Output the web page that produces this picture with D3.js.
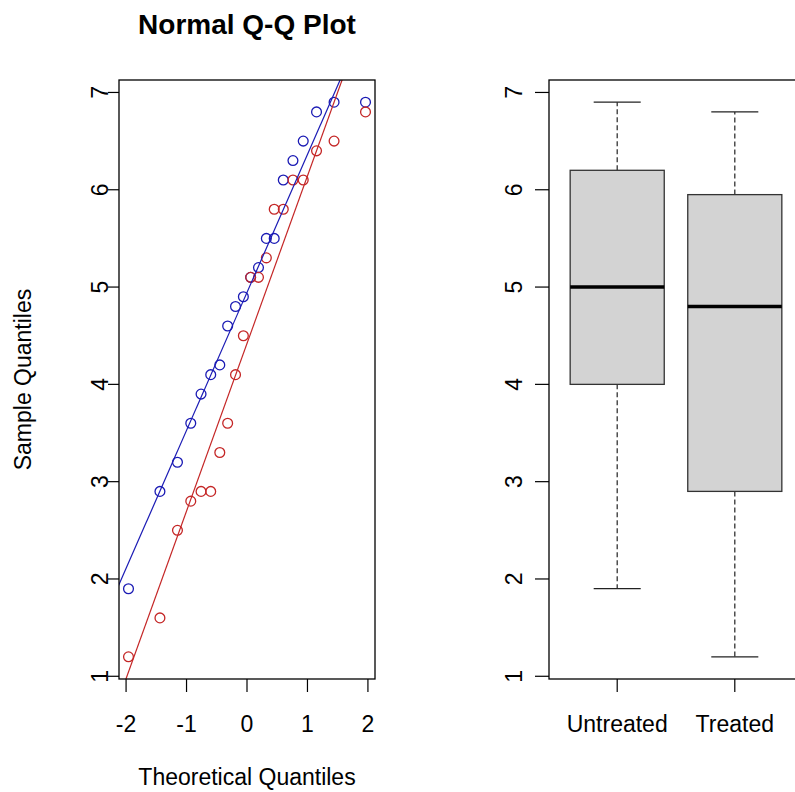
<!DOCTYPE html>
<html lang="en">
<head>
<meta charset="utf-8">
<title>Q-Q plot and boxplot</title>
<script src="https://cdn.jsdelivr.net/npm/d3@7"></script>
<style>
  body { margin: 0; background: #fff; }
  svg { display: block; font-family: "Liberation Sans", Arial, sans-serif; }
</style>
</head>
<body>
<script>
// sorted samples
var untreated = [1.9, 2.9, 3.2, 3.6, 3.9, 4.1, 4.2, 4.6, 4.8, 4.9,
                 5.1, 5.2, 5.5, 5.5, 6.1, 6.3, 6.5, 6.8, 6.9, 6.9];
var treated = [1.2, 1.6, 2.5, 2.8, 2.9, 2.9, 3.3, 3.6, 4.1, 4.5,
               5.1, 5.1, 5.3, 5.8, 5.8, 6.1, 6.1, 6.4, 6.5, 6.8];
// normal quantiles on the x axis (n = 20)
var theoretical = [-1.96, -1.44, -1.15, -0.93, -0.76, -0.60, -0.45, -0.32, -0.19, -0.06,
                   0.06, 0.19, 0.32, 0.45, 0.60, 0.76, 0.93, 1.15, 1.44, 1.96];
var groups = ["Untreated", "Treated"];
var xTicks = [-2, -1, 0, 1, 2];
var yTicks = [1, 2, 3, 4, 5, 6, 7];

var w = 795, h = 792;
var fs = 23;
var plotTop = 80, plotBottom = 679;

var svg = d3.select("body").append("svg")
    .attr("width", w)
    .attr("height", h);
svg.append("rect").attr("width", w).attr("height", h).attr("fill", "#fff");

var y = d3.scaleLinear().domain([0.972, 7.128]).range([plotBottom, plotTop]);

// y axis drawer (R style: rotated labels)
function yAxis(g, left, tick, gap) {
    g.selectAll("line.tick").data(yTicks).enter().append("line")
        .attr("x1", left - tick).attr("x2", left)
        .attr("y1", d => y(d)).attr("y2", d => y(d))
        .attr("stroke", "#000").attr("stroke-width", 1.2);
    g.selectAll("text.tick").data(yTicks).enter().append("text")
        .attr("transform", d => "translate(" + (left - gap) + "," + y(d) + ") rotate(-90)")
        .attr("text-anchor", "middle")
        .attr("font-size", fs)
        .text(d => d);
}

//---------------- left panel: normal Q-Q plot
var qL = 119, qR = 375;
var x = d3.scaleLinear().domain([-2.117, 2.117]).range([qL, qR]);
var qq = svg.append("g");

qq.append("clipPath").attr("id", "qqclip")
    .append("rect")
    .attr("x", qL).attr("y", plotTop)
    .attr("width", qR - qL).attr("height", plotBottom - plotTop);

var series = [
    {values: untreated, color: "#1a1ab4"},
    {values: treated, color: "#c42626"}
];

series.forEach(function(s) {
    qq.append("g").selectAll("circle").data(s.values).enter().append("circle")
        .attr("cx", (d, i) => x(theoretical[i]))
        .attr("cy", d => y(d))
        .attr("r", 4.9)
        .attr("fill", "none")
        .attr("stroke", s.color)
        .attr("stroke-width", 1.3);
});

// reference lines: mean + sd * z
series.forEach(function(s) {
    var m = d3.mean(s.values), sd = d3.deviation(s.values);
    qq.append("line")
        .attr("clip-path", "url(#qqclip)")
        .attr("x1", x(-3)).attr("y1", y(m - 3 * sd))
        .attr("x2", x(3)).attr("y2", y(m + 3 * sd))
        .attr("stroke", s.color)
        .attr("stroke-width", 1.2);
});

qq.append("rect")
    .attr("x", qL).attr("y", plotTop)
    .attr("width", qR - qL).attr("height", plotBottom - plotTop)
    .attr("fill", "none").attr("stroke", "#000").attr("stroke-width", 1.3);

qq.selectAll("line.xt").data(xTicks).enter().append("line")
    .attr("x1", d => x(d)).attr("x2", d => x(d))
    .attr("y1", plotBottom).attr("y2", plotBottom + 13)
    .attr("stroke", "#000").attr("stroke-width", 1.2);
qq.selectAll("text.xt").data(xTicks).enter().append("text")
    .attr("x", d => x(d)).attr("y", 732)
    .attr("text-anchor", "middle")
    .attr("font-size", fs)
    .text(d => d < 0 ? "-" + Math.abs(d) : d);

yAxis(qq, qL, 11, 11);

qq.append("text")
    .attr("x", (qL + qR) / 2).attr("y", 34)
    .attr("text-anchor", "middle")
    .attr("font-size", 28).attr("font-weight", "bold")
    .text("Normal Q-Q Plot");
qq.append("text")
    .attr("x", (qL + qR) / 2).attr("y", 785)
    .attr("text-anchor", "middle")
    .attr("font-size", fs)
    .text("Theoretical Quantiles");
qq.append("text")
    .attr("transform", "translate(31," + (plotTop + plotBottom) / 2 + ") rotate(-90)")
    .attr("text-anchor", "middle")
    .attr("font-size", fs)
    .text("Sample Quantiles");

//---------------- right panel: boxplot
function fivenum(v) {
    var s = v.slice().sort(d3.ascending), n = s.length;
    var n4 = Math.floor((n + 3) / 2) / 2;
    return [1, n4, (n + 1) / 2, n + 1 - n4, n].map(function(k) {
        return 0.5 * (s[Math.floor(k) - 1] + s[Math.ceil(k) - 1]);
    });
}

var bL = 549, bR = 803;
var bx = d3.scaleLinear().domain([0.42, 2.58]).range([bL, bR]);
var bp = svg.append("g");

var stats = [untreated, treated].map(function(v, i) {
    var f = fivenum(v), iqr = f[3] - f[1];
    var lo = d3.min(v.filter(d => d >= f[1] - 1.5 * iqr));
    var hi = d3.max(v.filter(d => d <= f[3] + 1.5 * iqr));
    return {pos: i + 1, q1: f[1], med: f[2], q3: f[3], lo: lo, hi: hi};
});

var boxes = bp.selectAll("g.box").data(stats).enter().append("g");

boxes.append("line")
    .attr("x1", d => bx(d.pos)).attr("x2", d => bx(d.pos))
    .attr("y1", d => y(d.q3)).attr("y2", d => y(d.hi))
    .attr("stroke", "#333").attr("stroke-width", 1.3).attr("stroke-dasharray", "5,3");
boxes.append("line")
    .attr("x1", d => bx(d.pos)).attr("x2", d => bx(d.pos))
    .attr("y1", d => y(d.q1)).attr("y2", d => y(d.lo))
    .attr("stroke", "#333").attr("stroke-width", 1.3).attr("stroke-dasharray", "5,3");
["hi", "lo"].forEach(function(k) {
    boxes.append("line")
        .attr("x1", d => bx(d.pos - 0.2)).attr("x2", d => bx(d.pos + 0.2))
        .attr("y1", d => y(d[k])).attr("y2", d => y(d[k]))
        .attr("stroke", "#222").attr("stroke-width", 1.3);
});
boxes.append("rect")
    .attr("x", d => bx(d.pos - 0.4))
    .attr("width", d => bx(d.pos + 0.4) - bx(d.pos - 0.4))
    .attr("y", d => y(d.q3))
    .attr("height", d => y(d.q1) - y(d.q3))
    .attr("fill", "#d3d3d3").attr("stroke", "#333").attr("stroke-width", 1.3);
boxes.append("line")
    .attr("x1", d => bx(d.pos - 0.4)).attr("x2", d => bx(d.pos + 0.4))
    .attr("y1", d => y(d.med)).attr("y2", d => y(d.med))
    .attr("stroke", "#000").attr("stroke-width", 3.6);

bp.append("rect")
    .attr("x", bL).attr("y", plotTop)
    .attr("width", bR - bL).attr("height", plotBottom - plotTop)
    .attr("fill", "none").attr("stroke", "#000").attr("stroke-width", 1.3);

bp.selectAll("line.xt").data(groups).enter().append("line")
    .attr("x1", (d, i) => bx(i + 1)).attr("x2", (d, i) => bx(i + 1))
    .attr("y1", plotBottom).attr("y2", plotBottom + 13)
    .attr("stroke", "#000").attr("stroke-width", 1.2);
bp.selectAll("text.xt").data(groups).enter().append("text")
    .attr("x", (d, i) => bx(i + 1)).attr("y", 732)
    .attr("text-anchor", "middle")
    .attr("font-size", fs)
    .text(d => d);

yAxis(bp, bL, 14, 27);
</script>
</body>
</html>
